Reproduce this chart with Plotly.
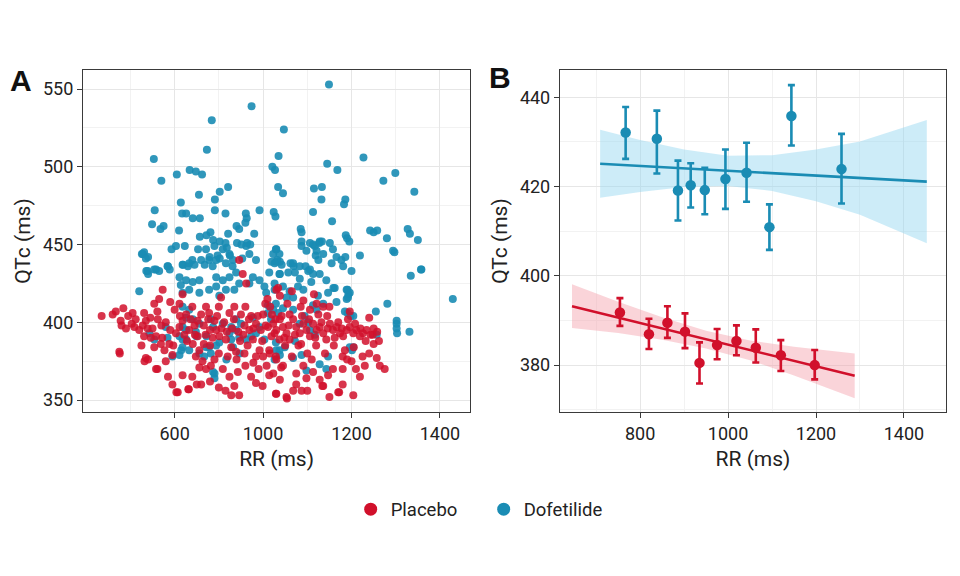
import plotly.graph_objects as go

RED = "#D1102B"
TEAL = "#1A8CB4"

# Panel A - individual observations (RR ms, QTc ms)
placebo_pts = [
    (635, 404), (667, 407), (684, 409), (660, 405), (678, 401), (680, 398), (705, 406), (703, 399),
    (709, 397), (676, 380), (731, 406), (735, 401), (739, 396), (731, 391), (754, 412), (773, 421),
    (765, 415), (761, 407), (758, 391), (754, 384), (769, 386), (777, 382), (735, 377), (761, 370),
    (780, 375), (795, 379), (788, 386), (803, 393), (811, 397), (818, 401), (826, 405), (811, 412),
    (818, 418), (833, 395), (845, 398), (852, 401), (852, 391), (841, 386), (856, 382), (848, 378),
    (863, 375), (856, 371), (871, 370), (818, 366), (807, 355), (832, 357), (890, 401), (894, 395),
    (901, 391), (878, 406), (871, 410), (912, 400), (924, 406), (935, 410), (916, 389), (928, 384),
    (939, 381), (890, 376), (909, 370), (924, 365), (935, 359), (946, 353), (943, 368), (946, 440),
    (954, 431), (962, 425), (973, 404), (984, 399), (969, 395), (977, 389), (992, 382), (984, 378),
    (973, 365), (984, 361), (1011, 397), (1026, 393), (1037, 389), (1014, 382), (1029, 378), (1041, 371),
    (999, 359), (1029, 354), (1014, 366), (790, 413), (800, 408), (840, 410), (860, 405), (880, 395),
    (900, 410), (905, 416), (930, 396), (950, 405), (960, 410), (955, 392), (965, 385), (940, 376),
    (920, 378), (900, 380), (880, 385), (870, 392), (860, 360), (880, 362), (900, 358), (915, 356),
    (960, 372), (990, 370), (1000, 378), (995, 395), (1000, 405), (1005, 412), (780, 400), (790, 395),
    (770, 398), (750, 396), (745, 403), (720, 395), (712, 402), (695, 404), (690, 396), (725, 385),
    (740, 376), (785, 365), (795, 360), (840, 365), (850, 360), (1023, 399), (1030, 395), (1019, 391),
    (1038, 402), (1045, 397), (1053, 393), (1060, 389), (1068, 402), (1075, 397), (1083, 393), (1091, 399),
    (1098, 395), (1106, 391), (1113, 399), (1121, 395), (1128, 397), (1136, 393), (1143, 389), (1151, 399),
    (1158, 395), (1166, 397), (1174, 393), (1181, 391), (1189, 395), (1196, 397), (1204, 393), (1211, 395),
    (1219, 391), (1226, 393), (1234, 395), (1196, 407), (1030, 421), (1038, 417), (1091, 414), (1106, 408),
    (1121, 412), (1136, 410), (1015, 380), (1030, 376), (1045, 372), (1023, 367), (1038, 363), (1030, 354),
    (1053, 352), (1075, 367), (1091, 372), (1098, 364), (1113, 368), (1128, 363), (1136, 359), (1147, 366),
    (1158, 370), (1170, 355), (1204, 353), (1219, 365), (1230, 372), (1257, 377), (1264, 372), (1275, 370),
    (1060, 405), (1080, 385), (1100, 380), (1120, 385), (1140, 380), (1160, 385), (1180, 378), (1200, 375),
    (1185, 382), (1050, 385), (1065, 378), (1110, 376), (1240, 380), (1250, 386), (1225, 378), (1170, 400),
    (1145, 404), (1125, 405), (1085, 410), (1055, 412), (1065, 420), (1010, 415), (1020, 405), (1075, 360),
    (1100, 356), (1150, 352), (1180, 360), (804, 355), (831, 357), (928, 353), (1054, 351), (1068, 356),
    (1172, 355), (1134, 359), (1087, 356), (675, 381), (732, 375), (758, 370), (1034, 422), (1243, 392),
    (1250, 396), (1190, 376), (1205, 384), (1262, 388), (1150, 410), (1115, 418), (1088, 404), (1240, 403),
    (812, 404), (822, 392), (836, 402), (846, 392), (866, 398), (876, 402), (886, 390), (896, 404),
    (906, 396), (918, 394), (934, 402), (944, 394), (958, 398), (968, 402), (978, 396), (988, 404),
    (998, 388), (1006, 398), (1016, 410), (1028, 402), (1042, 404), (1048, 390), (1058, 398), (1072, 392),
    (1086, 386), (1104, 402), (1118, 390), (1132, 400), (1146, 396), (1162, 390), (1178, 396), (1192, 402),
    (1208, 399), (1220, 396), (1232, 388), (1248, 392), (1258, 394), (866, 386), (882, 372), (948, 388),
    (958, 380), (978, 374), (1008, 372), (828, 388), (797, 385), (772, 390), (746, 390), (728, 398),
    (762, 402), (1180, 370), (1210, 370),
]

dofetilide_pts = [
    (1149, 553), (974, 539), (884, 530), (1047, 524), (873, 511), (753, 505), (1227, 506), (1035, 507),
    (1145, 502), (1168, 498), (834, 498), (848, 497), (805, 495), (862, 495), (1021, 500), (1027, 498),
    (1299, 496), (1272, 491), (770, 491), (1034, 487), (1045, 483), (1115, 486), (1133, 487), (1342, 484),
    (921, 487), (902, 484), (855, 482), (1186, 479), (1183, 476), (814, 477), (1132, 479), (891, 479),
    (755, 472), (1113, 471), (1024, 471), (1028, 468), (817, 470), (826, 470), (891, 472), (915, 470),
    (1156, 465), (841, 467), (857, 467), (961, 470), (963, 467), (992, 472), (960, 464), (749, 463),
    (775, 462), (768, 460), (1280, 454), (1297, 445), (1327, 460), (1332, 457), (1350, 453), (1242, 459),
    (1250, 458), (1258, 459), (1187, 456), (1190, 454), (1085, 460), (1087, 458), (881, 458), (872, 456),
    (921, 457), (980, 457), (940, 462), (946, 460), (810, 459), (857, 455), (887, 453), (902, 452),
    (915, 451), (918, 448), (941, 451), (951, 450), (964, 451), (971, 450), (1106, 451), (1117, 449),
    (1127, 451), (1133, 452), (823, 449), (853, 447), (793, 447), (731, 445), (740, 442), (726, 444),
    (1195, 452), (1186, 442), (1166, 442), (1177, 440), (1158, 447), (879, 442), (894, 440), (902, 441),
    (925, 443), (932, 440), (953, 441), (860, 440), (868, 437), (1023, 444), (1032, 440), (1038, 439),
    (1042, 437), (1062, 438), (1069, 436), (1083, 436), (1096, 436), (1102, 433), (1119, 443), (1125, 440),
    (1155, 438), (1181, 436), (736, 433), (740, 431), (758, 434), (765, 433), (785, 436), (789, 434),
    (819, 437), (830, 436), (840, 440), (845, 437), (1334, 430), (1357, 434), (1113, 431), (1429, 415),
    (1281, 412), (1255, 407), (1302, 401), (1302, 399), (1302, 396), (1331, 394), (1257, 392), (1191, 406),
    (1198, 404), (1191, 421), (1193, 418), (1189, 415), (1159, 422), (1204, 384), (1201, 382), (1143, 370),
    (1087, 452), (1087, 449), (1113, 450), (1128, 452), (1151, 451), (1121, 446), (1098, 446), (1136, 444),
    (1219, 443), (1200, 433), (1294, 446), (1358, 434), (1303, 393), (1196, 384), (1030, 447), (1019, 439),
    (1030, 439), (1068, 438), (1072, 432), (1057, 432), (1038, 431), (1106, 434), (1128, 431), (1143, 427),
    (1109, 426), (1083, 428), (1026, 425), (1045, 423), (1060, 420), (1079, 423), (1091, 421), (1068, 416),
    (1053, 416), (1162, 422), (1189, 421), (1196, 419), (1147, 419), (1124, 417), (1136, 412), (1166, 413),
    (1192, 416), (1185, 407), (1204, 404), (1113, 411), (1121, 408), (1045, 409), (1023, 408), (1034, 406),
    (1068, 408), (1094, 404), (1102, 400), (1083, 399), (1106, 395), (1117, 392), (1072, 388), (1049, 384),
    (1030, 382), (1038, 379), (1068, 377), (1087, 379), (1098, 369), (1128, 373), (1147, 378), (728, 444),
    (735, 441), (754, 434), (739, 433), (784, 436), (803, 449), (818, 437), (833, 438), (811, 429),
    (826, 427), (814, 424), (841, 426), (856, 427), (856, 419), (833, 421), (818, 419), (871, 447),
    (878, 440), (886, 436), (890, 449), (897, 443), (909, 447), (924, 444), (916, 438), (931, 436),
    (894, 429), (909, 427), (924, 429), (939, 432), (946, 425), (935, 421), (916, 421), (894, 423),
    (878, 421), (901, 417), (962, 449), (969, 444), (984, 440), (977, 429), (969, 425), (992, 427),
    (1003, 423), (1007, 419), (1014, 432), (1026, 438), (1037, 444), (1026, 421), (1029, 447), (1037, 431),
    (720, 420), (818, 410), (833, 408), (826, 403), (841, 402), (818, 397), (811, 391), (818, 389),
    (826, 395), (848, 394), (856, 399), (882, 402), (909, 399), (928, 397), (924, 393), (939, 395),
    (950, 399), (939, 402), (928, 389), (946, 390), (901, 387), (878, 384), (882, 380), (867, 378),
    (856, 380), (833, 382), (818, 384), (811, 379), (795, 378), (890, 364), (890, 367), (973, 391),
    (984, 393), (1011, 406), (1018, 402), (1003, 389), (1029, 387), (1037, 382), (1026, 376), (780, 397),
    (754, 389), (743, 393), (784, 390), (1011, 411), (1029, 412), (849, 391), (872, 391), (887, 397),
    (932, 384), (947, 380), (962, 389), (872, 384), (894, 385), (977, 403), (992, 397), (917, 376),
    (887, 368), (826, 389), (815, 382),
]

placebo_rr = [p[0] for p in placebo_pts]
placebo_qtc = [p[1] for p in placebo_pts]
dofetilide_rr = [p[0] for p in dofetilide_pts]
dofetilide_qtc = [p[1] for p in dofetilide_pts]

# Panel B - binned means with error bars
dof_bin_rr = [767, 838, 886, 915, 947, 994, 1042, 1094, 1144, 1258]
dof_bin_qtc = [432.1, 430.7, 419.1, 420.3, 419.2, 421.7, 423.1, 410.9, 435.8, 423.9]
dof_bin_hi = [437.8, 437.0, 425.8, 425.2, 424.2, 428.3, 429.8, 416.0, 442.7, 431.8]
dof_bin_lo = [426.2, 422.9, 412.4, 415.3, 413.8, 415.0, 416.6, 405.8, 429.2, 416.2]

pla_bin_rr = [754, 820, 862, 902, 935, 975, 1019, 1063, 1120, 1197]
pla_bin_qtc = [391.8, 386.9, 389.5, 387.5, 380.5, 384.5, 385.4, 383.9, 382.2, 380.0]
pla_bin_hi = [395.0, 390.4, 393.2, 391.6, 385.1, 388.1, 388.9, 388.0, 385.6, 383.4]
pla_bin_lo = [388.8, 383.6, 386.1, 383.8, 375.9, 381.3, 382.2, 380.6, 378.7, 376.8]

# regression lines and confidence bands
dof_fit_rr = [709, 1452]
dof_fit_qtc = [425.1, 421.1]
dof_band_rr = [709, 800, 900, 1000, 1100, 1200, 1300, 1452]
dof_band_hi = [432.7, 430.4, 428.3, 426.9, 427.0, 428.3, 430.1, 434.9]
dof_band_lo = [417.5, 418.8, 419.9, 420.1, 419.0, 416.7, 413.7, 407.3]

pla_fit_rr = [645, 1288]
pla_fit_qtc = [393.2, 377.6]
pla_band_rr = [645, 750, 850, 950, 1050, 1150, 1288]
pla_band_hi = [398.1, 394.2, 390.7, 387.7, 385.5, 384.1, 382.6]
pla_band_lo = [388.3, 387.2, 385.7, 383.7, 381.1, 377.7, 372.6]

FONT = "Roboto, Arial, sans-serif"

fig = go.Figure()

# --- Panel A
fig.add_trace(go.Scatter(
    x=dofetilide_rr, y=dofetilide_qtc, mode="markers", showlegend=False,
    marker=dict(color=TEAL, size=8, opacity=0.9, line=dict(width=0)),
    xaxis="x", yaxis="y",
))
fig.add_trace(go.Scatter(
    x=placebo_rr, y=placebo_qtc, mode="markers", showlegend=False,
    marker=dict(color=RED, size=8, opacity=0.85, line=dict(width=0)),
    xaxis="x", yaxis="y",
))


# --- Panel B
def add_group(band_rr, band_hi, band_lo, fill, fit_rr, fit_qtc, color,
              bin_rr, bin_qtc, bin_hi, bin_lo):
    fig.add_trace(go.Scatter(
        x=band_rr + band_rr[::-1], y=band_hi + band_lo[::-1],
        fill="toself", fillcolor=fill, line=dict(width=0), mode="lines",
        hoverinfo="skip", showlegend=False, xaxis="x2", yaxis="y2",
    ))
    fig.add_trace(go.Scatter(
        x=fit_rr, y=fit_qtc, mode="lines", line=dict(color=color, width=2.6),
        showlegend=False, xaxis="x2", yaxis="y2",
    ))
    fig.add_trace(go.Scatter(
        x=bin_rr, y=bin_qtc, mode="markers", showlegend=False,
        marker=dict(color=color, size=10.5),
        error_y=dict(type="data", symmetric=False,
                     array=[h - m for h, m in zip(bin_hi, bin_qtc)],
                     arrayminus=[m - l for l, m in zip(bin_lo, bin_qtc)],
                     color=color, thickness=2.6, width=3.5),
        xaxis="x2", yaxis="y2",
    ))


add_group(dof_band_rr, dof_band_hi, dof_band_lo, "rgba(150,215,240,0.48)",
          dof_fit_rr, dof_fit_qtc, TEAL, dof_bin_rr, dof_bin_qtc, dof_bin_hi, dof_bin_lo)
add_group(pla_band_rr, pla_band_hi, pla_band_lo, "rgba(245,160,170,0.45)",
          pla_fit_rr, pla_fit_qtc, RED, pla_bin_rr, pla_bin_qtc, pla_bin_hi, pla_bin_lo)

# legend entries
for name, color in [("Placebo", RED), ("Dofetilide", TEAL)]:
    fig.add_trace(go.Scatter(
        x=[None], y=[None], mode="markers", name=name,
        marker=dict(color=color, size=13), xaxis="x", yaxis="y",
    ))

axis_common = dict(
    showline=True, mirror=True, linecolor="#3A3A3A", linewidth=1.3,
    ticks="outside", ticklen=5, tickcolor="#3A3A3A", tickwidth=1.2,
    gridcolor="#E6E6E6", gridwidth=1, zeroline=False,
    tickfont=dict(family=FONT, size=18, color="#222"),
)
title_font = dict(family=FONT, size=21, color="#222")

# page body adds an 8px offset, so domains are shifted by that amount
fig.update_layout(
    width=960, height=576,
    margin=dict(l=0, r=0, t=0, b=0),
    paper_bgcolor="white", plot_bgcolor="white",
    font=dict(family=FONT, color="#222"),
    xaxis=dict(
        domain=[0.0782, 0.4813], range=[593, 1468],
        tickvals=[800, 1000, 1200, 1400], ticktext=["600", "1000", "1200", "1400"],
        minor=dict(tickvals=[700, 900, 1100, 1300], showgrid=True, gridcolor="#F2F2F2", ticks=""),
        title=dict(text="RR (ms)", font=title_font, standoff=8),
        **axis_common,
    ),
    yaxis=dict(
        domain=[0.2986, 0.8924], range=[342.3, 562.3],
        tickvals=[350, 400, 450, 500, 550],
        minor=dict(tickvals=[375, 425, 475, 525], showgrid=True, gridcolor="#F2F2F2", ticks=""),
        title=dict(text="QTc (ms)", font=title_font, standoff=6),
        **axis_common,
    ),
    xaxis2=dict(
        domain=[0.5750, 0.9771], range=[617.7, 1495.7], anchor="y2",
        tickvals=[800, 1000, 1200, 1400],
        minor=dict(tickvals=[700, 900, 1100, 1300], showgrid=True, gridcolor="#F2F2F2", ticks=""),
        title=dict(text="RR (ms)", font=title_font, standoff=8),
        **axis_common,
    ),
    yaxis2=dict(
        domain=[0.2986, 0.8924], range=[369.5, 446.1], anchor="x2",
        tickvals=[380, 400, 420, 440],
        minor=dict(tickvals=[370, 390, 410, 430], showgrid=True, gridcolor="#F2F2F2", ticks=""),
        title=dict(text="QTc (ms)", font=title_font, standoff=6),
        **axis_common,
    ),
    legend=dict(
        orientation="h", x=0.4955, xanchor="center", y=0.129, yanchor="middle",
        entrywidth=88, font=dict(family=FONT, size=18.5, color="#222"),
    ),
    annotations=[
        dict(text="<b>A</b>", x=0.0135, y=0.875, xref="paper", yref="paper", showarrow=False,
             xanchor="center", yanchor="middle",
             font=dict(family="Liberation Sans, Arial", size=30, color="#111")),
        dict(text="<b>B</b>", x=0.5125, y=0.880, xref="paper", yref="paper", showarrow=False,
             xanchor="center", yanchor="middle",
             font=dict(family="Liberation Sans, Arial", size=30, color="#111")),
    ],
)

fig.write_html("out.html")
